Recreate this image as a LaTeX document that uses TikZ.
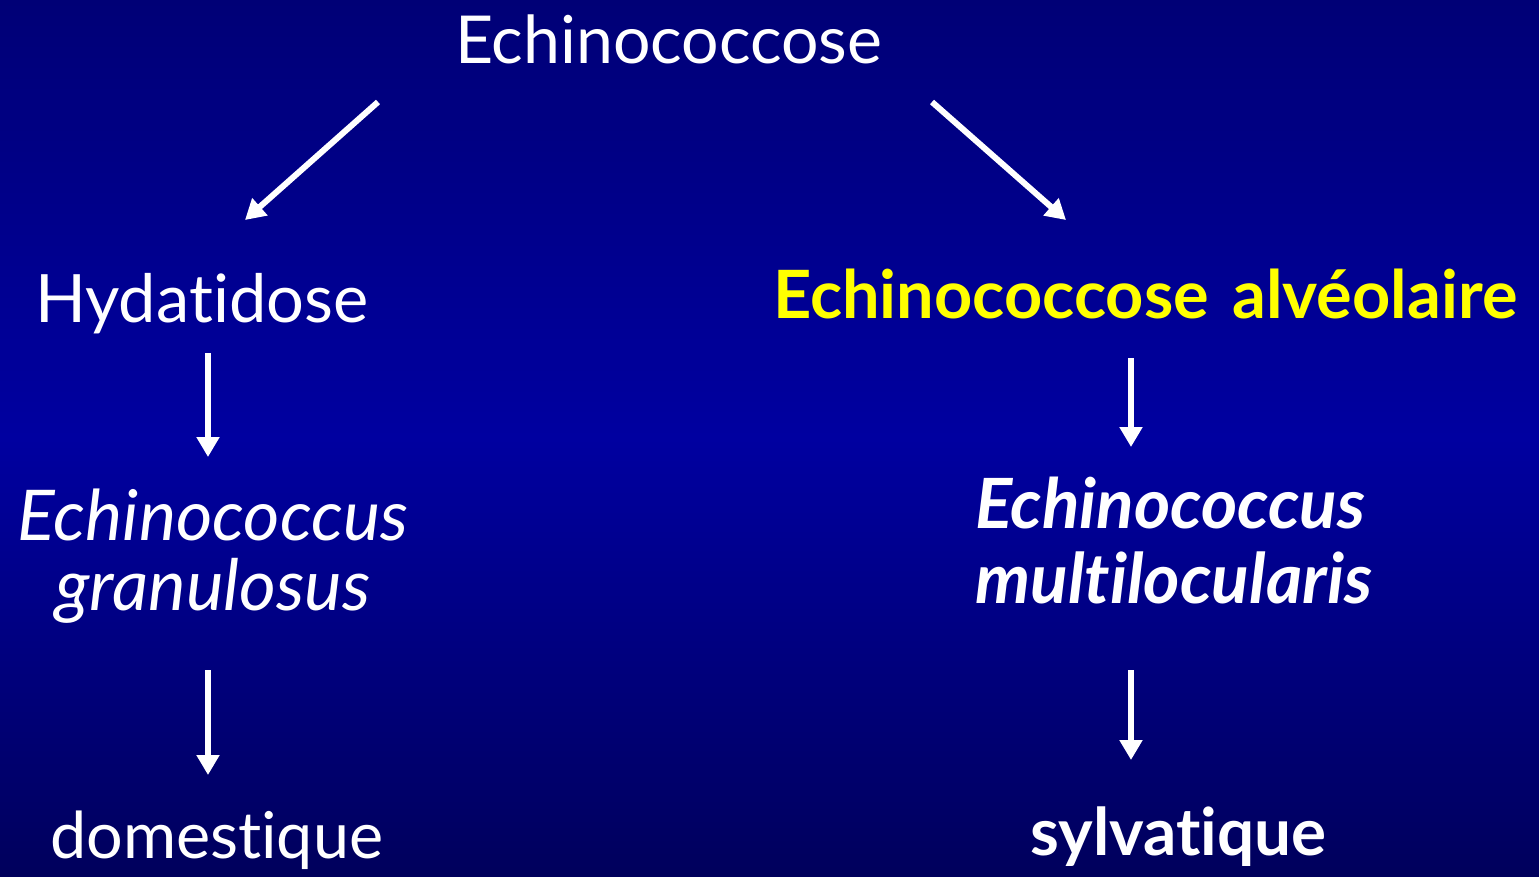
\documentclass[tikz,border=0pt]{standalone}
\usepackage{fontspec}
\setmainfont{Lato}[Ligatures={NoCommon}]
\usetikzlibrary{arrows.meta}
\definecolor{bgtop}{RGB}{0,0,118}
\definecolor{bgmid}{RGB}{0,0,160}
\definecolor{bgbot}{RGB}{0,0,92}
\definecolor{slideyellow}{RGB}{255,255,0}
\newcommand{\fitw}[2]{\resizebox{#1pt}{!}{#2}}
\tikzset{
  lbl/.style={text=white, inner sep=0pt, font=\fontsize{64}{72}\selectfont},
  arr/.style={draw=white, line width=6pt, -{Triangle[width=22pt,length=20pt]}},
}
\begin{document}
\begin{tikzpicture}[x=1pt,y=-1pt]
  \fill[top color=bgtop, bottom color=bgbot, middle color=bgmid] (0,0) rectangle (1539,876);
  \useasboundingbox (0,0) rectangle (1539,876);

  \node[lbl, anchor=base west] (top) at (455,63) {\fitw{427}{Echinococcose}};
  \node[lbl, anchor=base west] (hyd) at (35,322) {\fitw{333}{Hydatidose}};
  \node[lbl, anchor=base west, text=slideyellow, font=\fontsize{64}{72}\selectfont\bfseries] (alv) at (773,318) {\fitw{744}{Echinococcose\hspace{0.35em}alvéolaire}};
  \node[lbl, anchor=base, align=center, font=\fontsize{64}{70}\selectfont\itshape] (egr) at (213,610) {\fitw{390}{Echinococcus}\\\fitw{315}{granulosus}};
  \node[lbl, anchor=base west, align=left, font=\fontsize{64}{75}\selectfont\bfseries\itshape] (emu) at (975,603) {\fitw{390}{Echinococcus}\\\fitw{397}{multilocularis}};
  \node[lbl, anchor=base west] (dom) at (50,858) {\fitw{333}{domestique}};
  \node[lbl, anchor=base west, font=\fontsize{64}{72}\selectfont\bfseries] (syl) at (1030,855) {\fitw{296}{sylvatique}};

  \coordinate (a1s) at (378,102);  \coordinate (a1e) at (245,220);
  \coordinate (a2s) at (932,102);  \coordinate (a2e) at (1066,220);
  \coordinate (a3s) at (208,353);  \coordinate (a3e) at (208,457);
  \coordinate (a4s) at (1131,358); \coordinate (a4e) at (1131,447);
  \coordinate (a5s) at (208,670);  \coordinate (a5e) at (208,775);
  \coordinate (a6s) at (1131,670); \coordinate (a6e) at (1131,760);

  \draw[arr] (a1s) -- (a1e);
  \draw[arr] (a2s) -- (a2e);
  \draw[arr] (a3s) -- (a3e);
  \draw[arr] (a4s) -- (a4e);
  \draw[arr] (a5s) -- (a5e);
  \draw[arr] (a6s) -- (a6e);
\end{tikzpicture}
\end{document}
